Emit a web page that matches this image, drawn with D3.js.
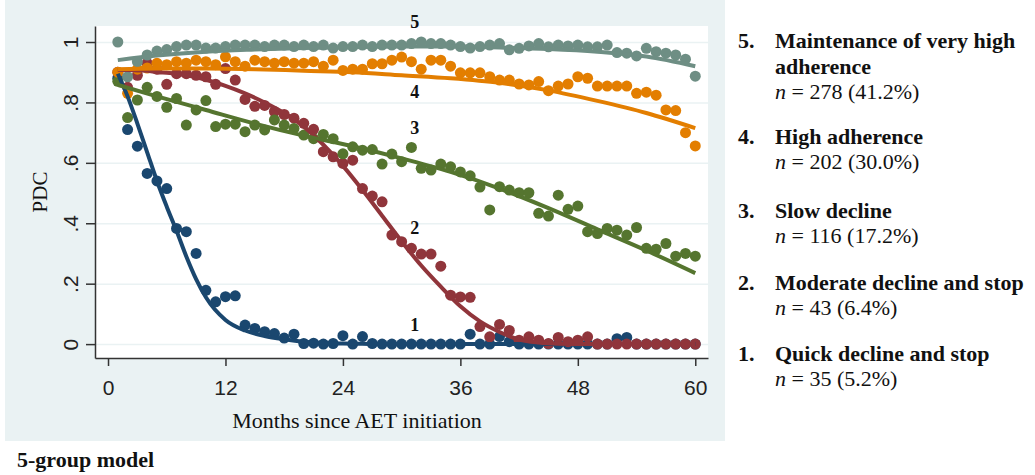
<!DOCTYPE html>
<html>
<head>
<meta charset="utf-8">
<title>PDC trajectories</title>
<script src="https://d3js.org/d3.v7.min.js"></script>
<style>
  body { margin: 0; background: #fff; }
  svg text.serif { font-family: "Liberation Serif", "Times New Roman", serif; fill: #111; }
  .axis text { font-family: "Liberation Sans", Arial, sans-serif; font-size: 21px; fill: #222; }
  .axis line, .axis path { stroke: #333; stroke-width: 1.5px; }
  .gridlines line { stroke: #eaf2f3; stroke-width: 1.5px; }
  .gridlines .domain { stroke: none; }
</style>
</head>
<body>
<svg id="chart" width="1035" height="475"></svg>
<script>
// months since initiation
const months = [1,2,3,4,5,6,7,8,9,10,11,12,13,14,15,16,17,18,19,20,
  21,22,23,24,25,26,27,28,29,30,31,32,33,34,35,36,37,38,39,40,
  41,42,43,44,45,46,47,48,49,50,51,52,53,54,55,56,57,58,59,60];

// observed mean PDC per group
const pdc1 = [.88,.71,.655,.565,.54,.515,.383,.372,.30,.178,.14,.157,.16,.063,.052,.041,.035,.02,.033,.002,
  .003,0,.002,.028,0,.025,.002,0,0,0,0,0,0,0,0,0,.033,0,0,.025,
  .008,0,0,0,0,0,0,0,0,0,0,.018,.022,0,0,0,0,0,0,0];
const pdc2 = [.90,.85,.89,.93,.91,.86,.895,.895,.89,.885,.86,.912,.874,.81,.787,.79,.77,.76,.748,.731,
  .711,.637,.62,.598,.609,.515,.49,.471,.361,.339,.317,.298,.298,.258,.162,.156,.155,.058,.024,.065,
  .045,.013,.024,.013,.002,.022,.008,.013,.024,0,0,0,0,0,0,0,0,0,0,0];
const pdc3 = [.87,.75,.808,.85,.82,.784,.813,.725,.775,.806,.72,.728,.728,.703,.725,.709,.742,.725,.714,.692,
  .68,.694,.68,.63,.653,.642,.644,.596,.629,.604,.651,.582,.576,.596,.587,.57,.557,.52,.444,.521,
  .51,.501,.501,.433,.424,.493,.446,.457,.372,.366,.383,.377,.361,.386,.317,.314,.333,.291,.30,.291];
const pdc4 = [.90,.83,.91,.914,.93,.925,.935,.93,.94,.935,.925,.951,.935,.92,.94,.935,.93,.935,.93,.93,
  .935,.92,.94,.906,.91,.91,.928,.928,.94,.95,.935,.91,.94,.94,.92,.898,.898,.898,.885,.874,
  .874,.861,.858,.869,.839,.854,.861,.885,.88,.854,.854,.854,.854,.83,.834,.824,.775,.773,.70,.656];
const pdc5 = [1.0,.885,.935,.957,.97,.975,.985,.99,.99,.98,.98,.985,.99,.99,.99,.985,.99,.99,.985,.99,
  .985,.99,.98,.985,.985,.99,.985,.99,.99,.99,.995,1.0,.995,.995,.99,.985,.98,.985,.99,.995,
  .974,.979,.987,.995,.984,.99,.987,.99,.984,.984,.99,.965,.963,.954,.979,.968,.963,.957,.943,.887];

// fitted trajectories
const fitMonthsFine = [1,2,3,4,5,6,7,8,9,10,12,14,16,18,20,22,24,26,28,30,32,34,36,38,40,42,44,46,48,52,56,60];
const fit1 = [.895,.82,.73,.635,.54,.455,.375,.29,.215,.155,.08,.045,.027,.016,.008,.004,.002,.001,0,0,0,0,0,0,0,0,0,0,0,0,0,0];
const fit2 = [.907,.907,.906,.905,.90,.898,.895,.89,.883,.875,.855,.83,.80,.765,.72,.66,.59,.51,.425,.34,.26,.19,.125,.075,.04,.015,.005,.001,0,0,0,0];
const fitMonthsCoarse = [1,5,10,15,20,25,30,35,40,45,50,55,60];
const fit3 = [.858,.82,.775,.73,.69,.655,.615,.57,.515,.45,.38,.31,.235];
const fit4 = [.91,.912,.912,.91,.905,.90,.89,.88,.865,.84,.805,.765,.715];
const fit5 = [.94,.955,.968,.975,.98,.983,.985,.985,.982,.977,.968,.952,.92];

const groupColors = ["#1a476f", "#90353b", "#55752f", "#e37e00", "#6e8e84"];
const groupLabels = ["1", "2", "3", "4", "5"];
const labelValues = [0.063, 0.384, 0.715, 0.834, 1.066];

const xTicks = [0, 12, 24, 36, 48, 60];
const yTicks = [0, .2, .4, .6, .8, 1];
const yTickLabels = ["0", ".2", ".4", ".6", ".8", "1"];

const legendNums = ["5.", "4.", "3.", "2.", "1."];
const legendNames = [["Maintenance of very high", "adherence"], ["High adherence"], ["Slow decline"],
  ["Moderate decline and stop"], ["Quick decline and stop"]];
const legendCounts = ["278 (41.2%)", "202 (30.0%)", "116 (17.2%)", "43 (6.4%)", "35 (5.2%)"];

const svg = d3.select("#chart");
const plot = { left: 95, right: 708, top: 26, bottom: 358 };

// graph region and plot region
svg.append("rect").attr("x", 5).attr("y", 0).attr("width", 720).attr("height", 441).attr("fill", "#eaf2f3");
svg.append("rect").attr("x", plot.left).attr("y", plot.top)
  .attr("width", plot.right - plot.left).attr("height", plot.bottom - plot.top).attr("fill", "#fff");

const x = d3.scaleLinear().domain([-1.33, 61.3]).range([plot.left, plot.right]);
const y = d3.scaleLinear().domain([-0.046, 1.053]).range([plot.bottom, plot.top]);

svg.append("g").attr("class", "gridlines")
  .attr("transform", `translate(${plot.left},0)`)
  .call(d3.axisLeft(y).tickValues(yTicks).tickSize(-(plot.right - plot.left)).tickFormat(""));

const yAxis = svg.append("g").attr("class", "axis")
  .attr("transform", `translate(${plot.left},0)`)
  .call(d3.axisLeft(y).tickValues(yTicks).tickSize(9).tickSizeOuter(0).tickFormat((d, i) => yTickLabels[i]));
yAxis.selectAll("text")
  .attr("x", 0).attr("dy", 0)
  .attr("text-anchor", "middle")
  .attr("transform", "translate(-17,0) rotate(-90)");

svg.append("g").attr("class", "axis")
  .attr("transform", `translate(0,${plot.bottom})`)
  .call(d3.axisBottom(x).tickValues(xTicks).tickSize(8).tickSizeOuter(0).tickPadding(14));

// points then fitted line for each group
const observed = [pdc1, pdc2, pdc3, pdc4, pdc5];
const fits = [[fitMonthsFine, fit1], [fitMonthsFine, fit2], [fitMonthsCoarse, fit3], [fitMonthsCoarse, fit4], [fitMonthsCoarse, fit5]];
const line = d3.line().x(d => x(d[0])).y(d => y(d[1])).curve(d3.curveMonotoneX);

observed.forEach((vals, g) => {
  svg.append("g").selectAll("circle")
    .data(months.map((m, i) => [m, vals[i]]))
    .join("circle")
    .attr("cx", d => x(d[0]))
    .attr("cy", d => y(d[1]))
    .attr("r", 5.5)
    .attr("fill", groupColors[g]);
});
fits.forEach(([ms, vals], g) => {
  svg.append("path")
    .datum(ms.map((m, i) => [m, vals[i]]))
    .attr("d", line)
    .attr("fill", "none")
    .attr("stroke", groupColors[g])
    .attr("stroke-width", 4);
});

// group numbers on the curves
svg.append("g").selectAll("text")
  .data(groupLabels)
  .join("text")
  .attr("class", "serif")
  .attr("x", x(31.35))
  .attr("y", (d, i) => y(labelValues[i]))
  .attr("dy", "0.35em")
  .attr("text-anchor", "middle")
  .attr("font-size", 18)
  .attr("font-weight", "bold")
  .text(d => d);

// axis titles
svg.append("text").attr("class", "serif")
  .attr("x", 357).attr("y", 428)
  .attr("text-anchor", "middle").attr("font-size", 22)
  .text("Months since AET initiation");
svg.append("text").attr("class", "serif")
  .attr("transform", `translate(47,${(plot.top + plot.bottom) / 2}) rotate(-90)`)
  .attr("text-anchor", "middle").attr("font-size", 21)
  .text("PDC");
svg.append("text").attr("class", "serif")
  .attr("x", 17).attr("y", 467)
  .attr("font-size", 22).attr("font-weight", "bold")
  .text("5-group model");

// legend on the right
const legendTop = [48, 144, 218, 290, 361];
const lineGap = 26;
legendNums.forEach((num, i) => {
  const g = svg.append("g").attr("class", "legend");
  g.append("text").attr("class", "serif")
    .attr("x", 738).attr("y", legendTop[i])
    .attr("font-size", 22).attr("font-weight", "bold").text(num);
  legendNames[i].forEach((name, j) => {
    g.append("text").attr("class", "serif")
      .attr("x", 775).attr("y", legendTop[i] + j * lineGap)
      .attr("font-size", 22).attr("font-weight", "bold").text(name);
  });
  const t = g.append("text").attr("class", "serif")
    .attr("x", 775).attr("y", legendTop[i] + legendNames[i].length * lineGap - 1)
    .attr("font-size", 22);
  t.append("tspan").attr("font-style", "italic").text("n");
  t.append("tspan").text(" = " + legendCounts[i]);
});
</script>
</body>
</html>
